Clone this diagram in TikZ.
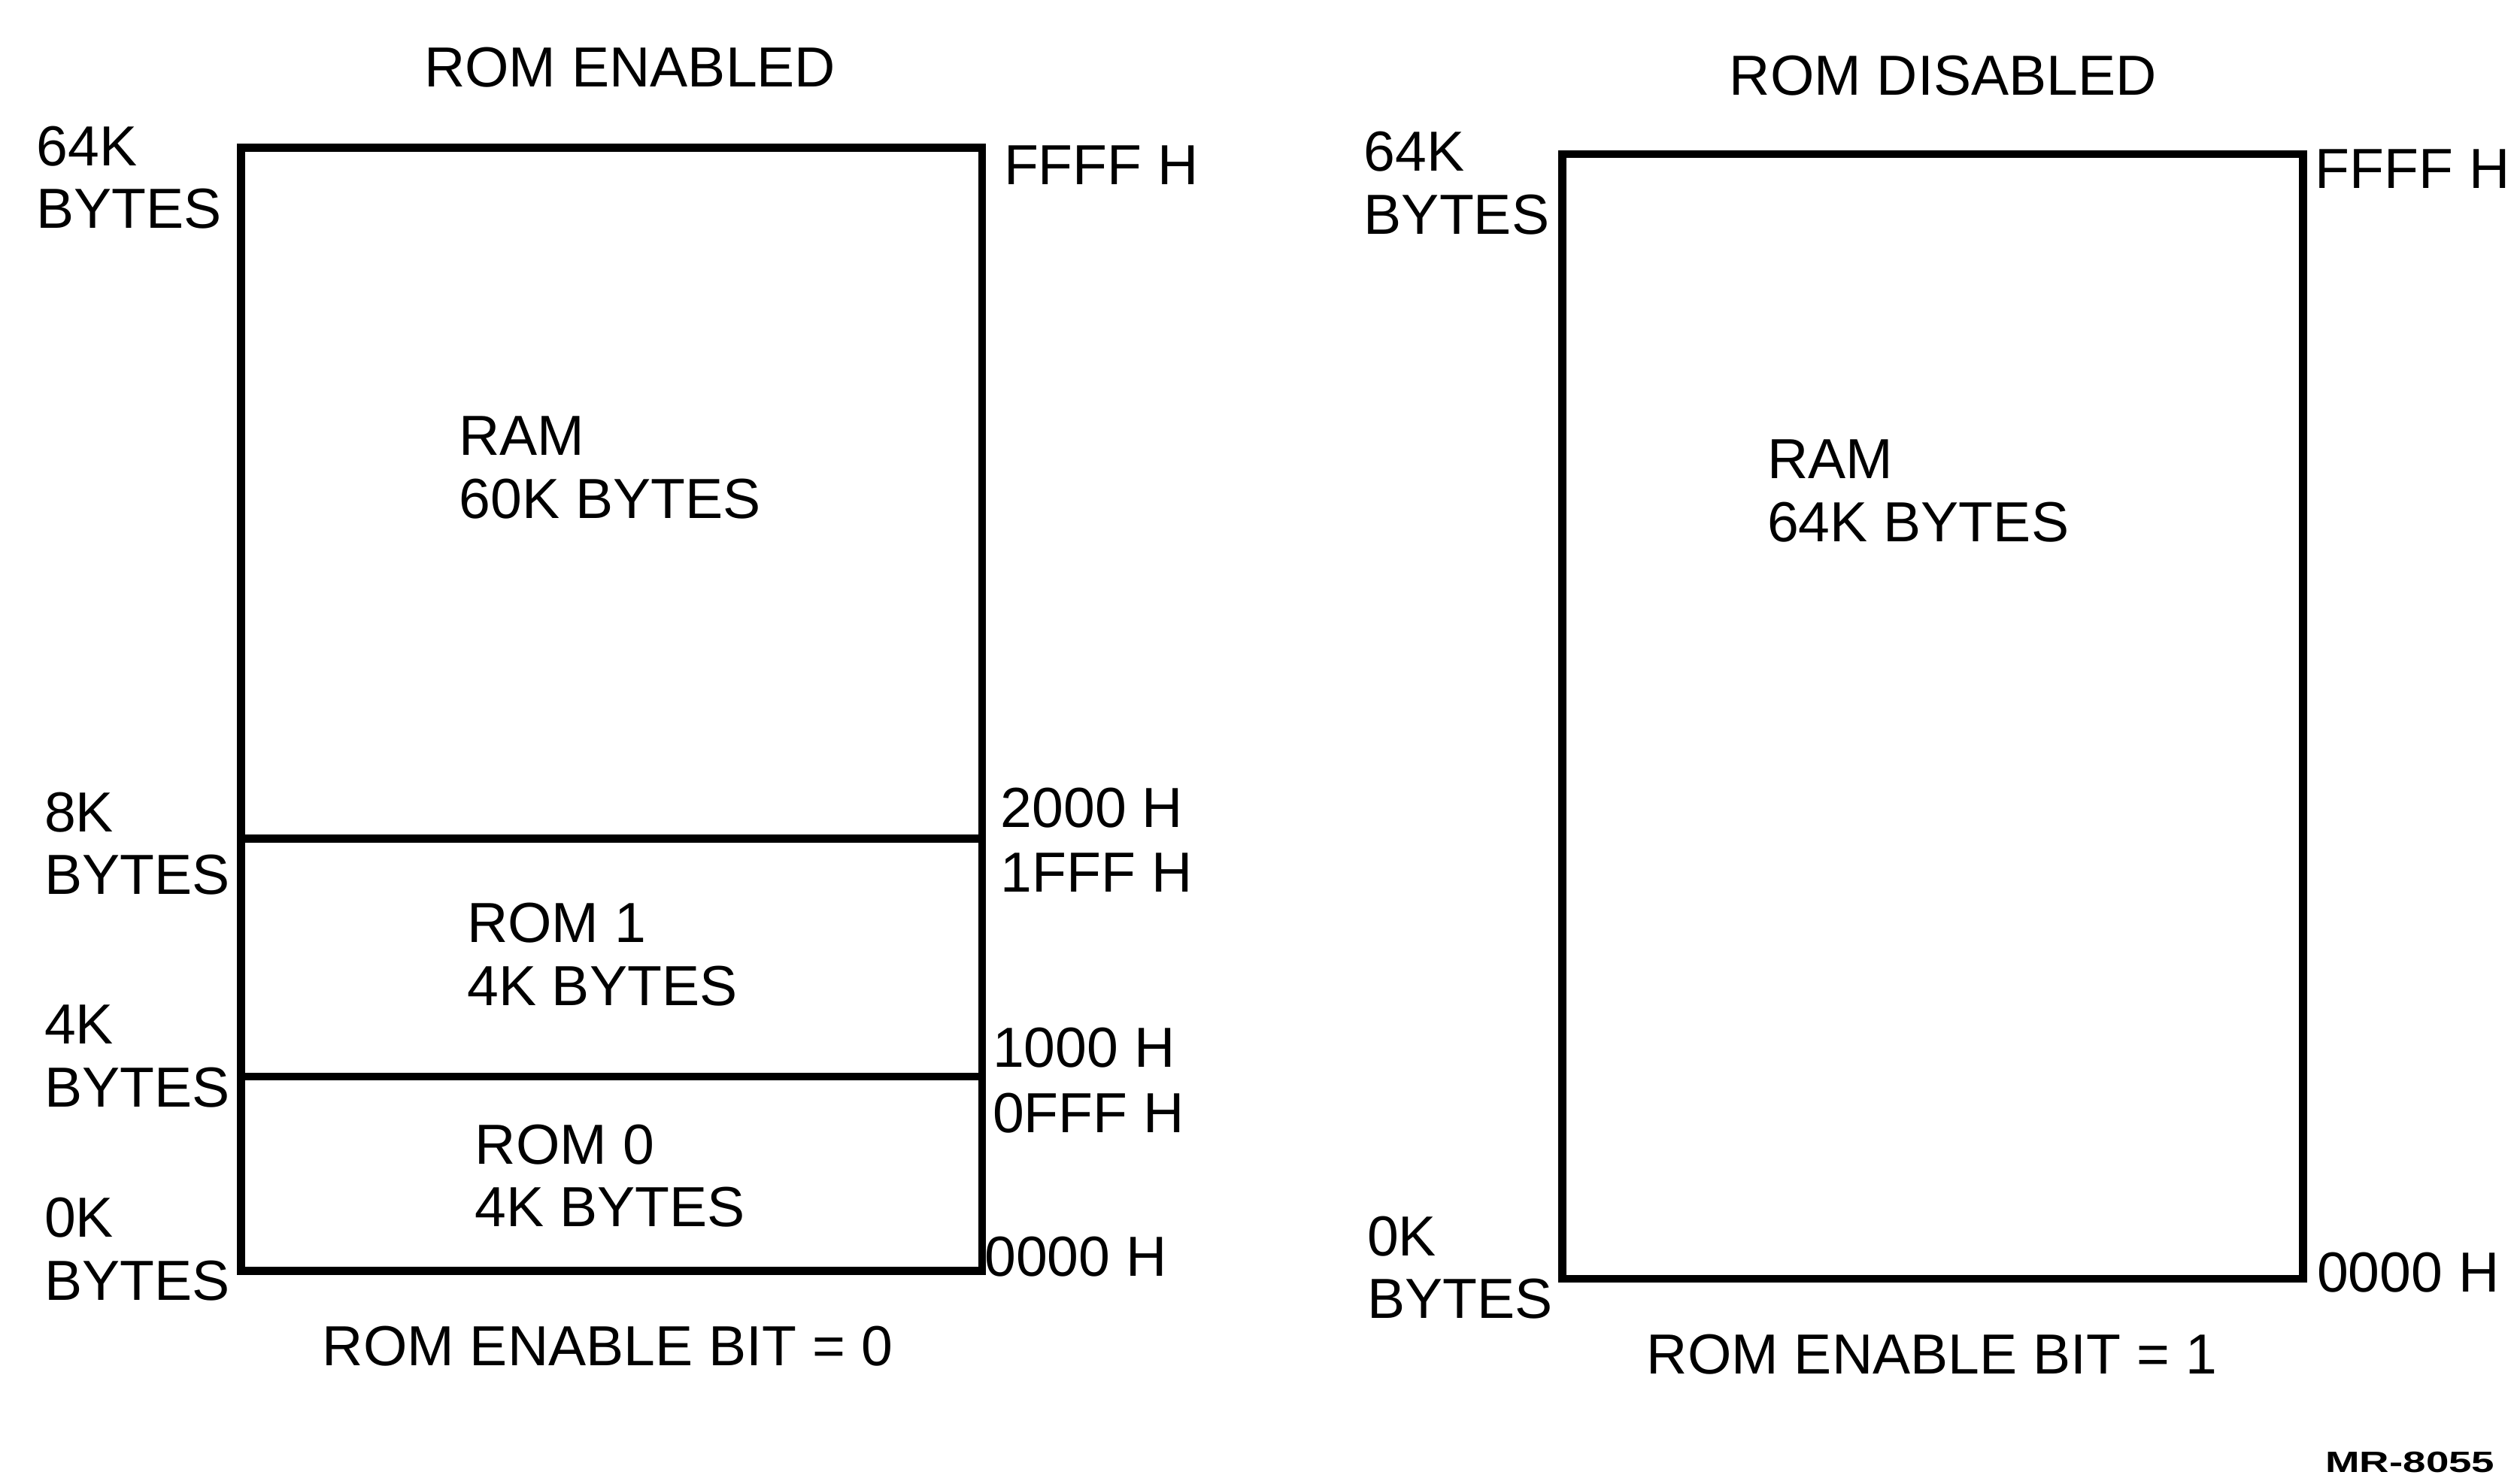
\documentclass[tikz,border=0pt]{standalone}
\usepackage{fontspec}
\setmainfont{Liberation Sans}
\usepackage{tikz}
\usetikzlibrary{positioning}

\begin{document}
\begin{tikzpicture}[x=0.01cm,y=-0.01cm,
    memtxt/.style={inner sep=0pt,font=\fontsize{10}{11.1}\selectfont,align=left},
    addr/.style={memtxt,anchor=west},
    membox/.style={line width=1.4pt}]
  \useasboundingbox (0,0) rectangle (1568,918);

  % ROM enabled map
  \node[memtxt] (ttlen) at (392,42) {ROM ENABLED};
  \draw[membox] (150,92) rectangle (611,791);
  \draw[membox] (150,522) -- (611,522);
  \draw[membox] (150,670) -- (611,670);
  \node[addr] (kbtop) at (22,110.5) {64K\\BYTES};
  \node[addr] (kb8) at (27,525) {8K\\BYTES};
  \node[addr] (kb4) at (27,657.5) {4K\\BYTES};
  \node[addr] (kb0) at (27,777.5) {0K\\BYTES};
  \node[addr] (hxffff) at (624,103) {FFFF H};
  \node[addr] (hx2000) at (622,503) {2000 H};
  \node[addr] (hx1fff) at (622,543) {1FFF H};
  \node[addr] (hx1000) at (617,652) {1000 H};
  \node[addr] (hx0fff) at (617,693) {0FFF H};
  \node[addr] (hx0000) at (612,782) {0000 H};
  \node[addr] (ramen) at (285,291) {RAM\\60K BYTES};
  \node[addr] (romone) at (290,594) {ROM 1\\4K BYTES};
  \node[addr] (romzero) at (295,732) {ROM 0\\4K BYTES};
  \node[memtxt] (biten) at (378,838) {ROM ENABLE BIT = 0};

  % ROM disabled map
  \node[memtxt] (ttldis) at (1209,47) {ROM DISABLED};
  \draw[membox] (972,96) rectangle (1433,796);
  \node[addr] (dkbtop) at (848,114) {64K\\BYTES};
  \node[addr] (dkb0) at (850,789) {0K\\BYTES};
  \node[addr] (dhxffff) at (1440,105) {FFFF H};
  \node[addr] (dhx0000) at (1441,792) {0000 H};
  \node[addr] (ramdis) at (1099,305.5) {RAM\\64K BYTES};
  \node[memtxt] (bitdis) at (1202,843) {ROM ENABLE BIT = 1};

  \node[inner sep=0pt,anchor=east,font=\bfseries\fontsize{5.2}{6}\selectfont] (mrno) at (1553,910) {\scalebox{1.4}[1]{MR-8055}};
\end{tikzpicture}
\end{document}
